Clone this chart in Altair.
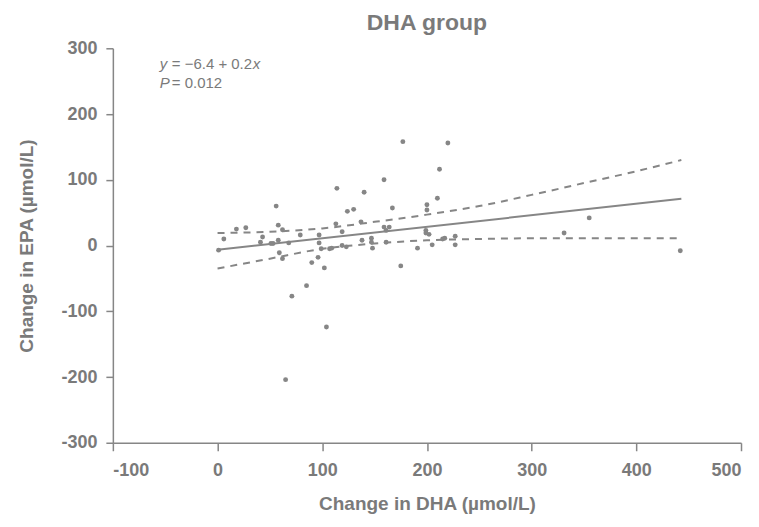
import altair as alt
import pandas as pd

# Scatter points: change in DHA (x) vs change in EPA (y)
dha = [1, 6, 18, 27, 41, 43, 51, 53, 56, 58, 58, 62, 68, 59, 62, 79, 97, 97, 99, 107,
       109, 113, 114, 65, 71, 85, 90, 96, 102, 104, 119, 119, 123, 124, 130, 137, 138,
       140, 147, 147, 148, 159, 159, 164, 161, 161, 167, 175, 177, 191, 199, 199, 200,
       200, 202, 205, 210, 212, 215, 217, 220, 227, 227, 331, 355, 442]
epa = [-7, 10, 25, 27, 5, 13, 3, 3, 60, 31, 8, 24, 4, -11, -20, 16, 16, 4, -5, -5,
       -4, 33, 87, -204, -77, -61, -26, -18, -34, -124, 21, 0, -2, 52, 55, 36, 8,
       81, 11, 5, -4, 100, 28, 28, 23, 5, 57, -31, 158, -4, 23, 19, 62,
       54, 17, 1, 72, 116, 10, 11, 156, 14, 1, 19, 42, -8]

# Regression line end points
fit_x = [0, 443]
fit_y = [-6.4, 71]

# Confidence band curves
ci_x = [0, 50, 100, 150, 200, 250, 300, 350, 400, 443]
ci_upper = [19, 21, 26, 36, 47, 60, 77, 95, 113, 130]
ci_lower = [-35, -20, -5, 3, 8, 10, 11, 11, 11, 11]

x_ticks = [-100, 0, 100, 200, 300, 400, 500]
y_ticks = [-300, -200, -100, 0, 100, 200, 300]

pts = pd.DataFrame({"dha": dha, "epa": epa})
fit = pd.DataFrame({"dha": fit_x, "epa": fit_y})
ci = pd.DataFrame({
    "dha": ci_x + ci_x,
    "epa": ci_upper + ci_lower,
    "band": ["upper"] * len(ci_x) + ["lower"] * len(ci_x),
})

gray = "#868686"
txt = "#7a7a7a"
font = "Liberation Sans"

xs = alt.Scale(domain=[-100, 500], nice=False, zero=False)
ys = alt.Scale(domain=[-300, 300], nice=False, zero=False)

xax = alt.Axis(title="Change in DHA (µmol/L)", values=x_ticks, grid=False,
               labelExpr="'' + datum.value", tickSize=8, labelPadding=11,
               titlePadding=15)
yax = alt.Axis(title="Change in EPA (µmol/L)", values=y_ticks, grid=False,
               labelExpr="'' + datum.value", tickSize=7, labelPadding=9,
               titlePadding=24)

points = alt.Chart(pts).mark_circle(size=24, color=gray, opacity=1).encode(
    x=alt.X("dha:Q", scale=xs, axis=xax),
    y=alt.Y("epa:Q", scale=ys, axis=yax),
)

line = alt.Chart(fit).mark_line(color=gray, strokeWidth=2).encode(
    x=alt.X("dha:Q", scale=xs),
    y=alt.Y("epa:Q", scale=ys),
)

band = alt.Chart(ci).mark_line(color=gray, strokeWidth=2, strokeDash=[7, 6],
                               interpolate="monotone").encode(
    x=alt.X("dha:Q", scale=xs),
    y=alt.Y("epa:Q", scale=ys),
    detail="band:N",
)

def label(s, x, y, italic=False):
    return alt.Chart(pd.DataFrame({"t": [s]})).mark_text(
        align="left", baseline="middle", fontSize=15, font=font,
        fontStyle="italic" if italic else "normal", color=txt,
    ).encode(text="t:N", x=alt.value(x), y=alt.value(y))

ann = [
    label("y", 47, 16, True),
    label("= \u22126.4 + 0.2", 59, 16),
    label("x", 140, 16, True),
    label("P", 47, 35, True),
    label("= 0.012", 59, 35),
]

chart = alt.layer(band, line, points, *ann).properties(
    width=629, height=395,
    title=alt.TitleParams("DHA group", fontSize=23, font=font, fontWeight="bold",
                          color=txt, anchor="middle", offset=4),
    autosize=alt.AutoSizeParams(type="none"),
    padding={"left": 105, "top": 40, "right": 10, "bottom": 75},
).configure_view(stroke=None).configure_axis(
    domainColor=gray, tickColor=gray, domainWidth=1.5, tickWidth=1.5,
    labelFont=font, labelFontSize=18, labelFontWeight="bold", labelColor=txt,
    titleFont=font, titleFontSize=19, titleFontWeight="bold", titleColor=txt,
)

chart.save("out.html", embed_options={"renderer": "svg", "actions": False})
